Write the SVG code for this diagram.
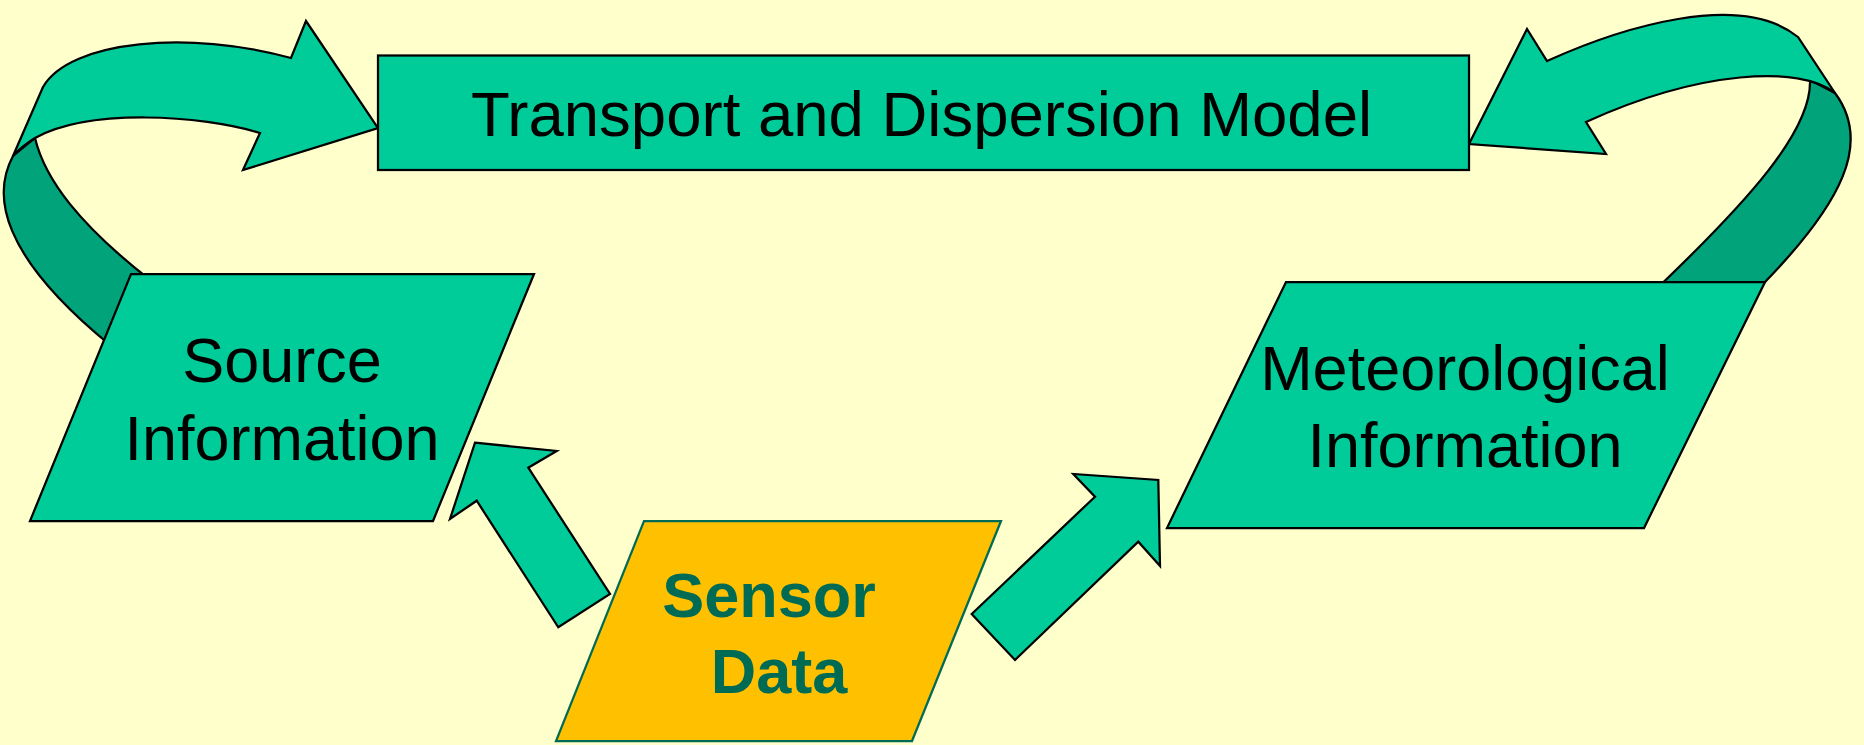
<svg xmlns="http://www.w3.org/2000/svg" width="1864" height="745" viewBox="0 0 1864 745">
<style>
.shape{fill:#00CC99;stroke:#000;stroke-width:2.25;stroke-linejoin:miter}
.dark{fill:#00A37A;stroke:#000;stroke-width:2.25}
.lbl{font-family:"Liberation Sans",Arial,sans-serif;font-size:63px;fill:#000;text-anchor:middle}
.sens{fill:#FFC000;stroke:#006B54;stroke-width:2.25}
.slbl{font-family:"Liberation Sans",Arial,sans-serif;font-size:63px;font-weight:bold;fill:#006B54;text-anchor:middle}
</style>
<rect width="1864" height="745" fill="#FFFFCC"/>
<g id="connectors">
  <g id="loop-left">
    <path class="dark" d="M13,156 C-8,195 0,255 110,345 L150,280 C80,225 45,180 35,138 Z"/>
    <path class="shape" d="M13,156 L43,87 C70,40 190,30 291,58 L306,21 L378,128 L243,170 L260,133 C200,115 90,108 35,138 Q22,146 13,156 Z"/>
  </g>
  <g id="loop-right">
    <path class="dark" d="M1835,93 C1870,140 1850,200 1745,302 L1650,295 C1750,200 1812,130 1810,80 Z"/>
    <path class="shape" d="M1469,144 L1527,29 L1547,61 C1620,28 1740,-10 1798,37 L1835,93 C1800,65 1700,70 1586,122 L1606,154 Z"/>
  </g>
  <polygon id="arrow-sensor-source" class="shape" points="475,442.7 556.7,451 528.3,467.7 610,594 558.3,627.3 476.7,500.7 450,519"/>
  <polygon id="arrow-sensor-met" class="shape" points="971.7,614 1095,496.7 1073.3,474 1158.3,480 1160,566 1138.3,541.7 1015,660"/>
</g>
<g id="node-model">
  <rect class="shape" x="378" y="55.5" width="1091" height="114.5"/>
  <text class="lbl" x="921.5" y="136" style="font-size:63.5px">Transport and Dispersion Model</text>
</g>
<g id="node-source">
  <polygon class="shape" points="131,274 534,274 433,521 30,521"/>
  <text class="lbl" x="282" y="381.7">Source</text>
  <text class="lbl" x="282" y="460">Information</text>
</g>
<g id="node-met">
  <polygon class="shape" points="1286,282 1765,282 1644,528 1167,528"/>
  <text class="lbl" x="1465" y="390">Meteorological</text>
  <text class="lbl" x="1465" y="466.7">Information</text>
</g>
<g id="node-sensor">
  <polygon class="sens" points="644,521 1001,521 912,741 556,741"/>
  <text class="slbl" x="769" y="617">Sensor</text>
  <text class="slbl" x="779" y="693">Data</text>
</g>
</svg>
